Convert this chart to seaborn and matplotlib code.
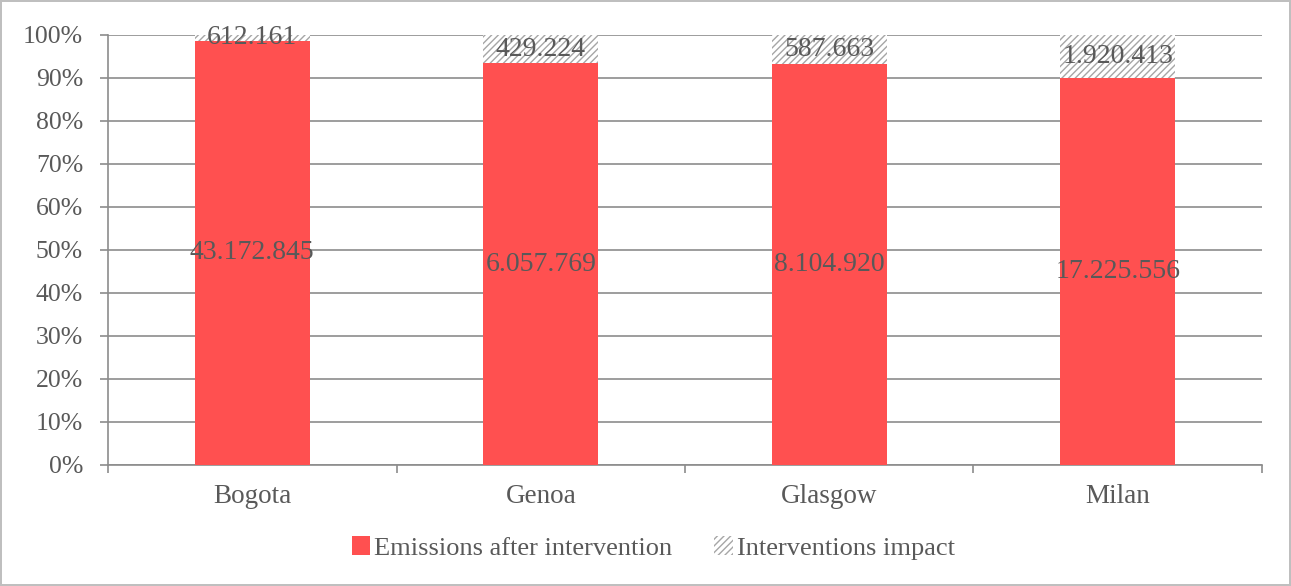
import matplotlib
matplotlib.use("Agg")
import matplotlib.pyplot as plt
from matplotlib.patches import Patch
from matplotlib.ticker import FixedLocator, PercentFormatter
import numpy as np
import pandas as pd
import seaborn as sns

cities = ["Bogota", "Genoa", "Glasgow", "Milan"]
emissions_after = [43172845, 6057769, 8104920, 17225556]
interventions_impact = [612161, 429224, 587663, 1920413]
emissions_labels = ["43.172.845", "6.057.769", "8.104.920", "17.225.556"]
impact_labels = ["612.161", "429.224", "587.663", "1.920.413"]

sns.set_theme(style="white")
plt.rcParams["font.family"] = ["Liberation Serif", "DejaVu Serif"]
plt.rcParams["hatch.linewidth"] = 1.0

text_color = "#595959"
grid_color = "#8C8C8C"
hatch_color = "#A6A6A6"
red = "#FF5050"

totals = np.array(emissions_after, float) + np.array(interventions_impact, float)
after_pct = np.array(emissions_after) / totals * 100
impact_pct = np.array(interventions_impact) / totals * 100

df = pd.DataFrame({"city": cities, "after": after_pct, "total": after_pct + impact_pct})

fig = plt.figure(figsize=(12.91, 5.86), dpi=100)
fig.patch.set_edgecolor("#BFBFBF")
fig.patch.set_linewidth(1.5)
ax = fig.add_axes([0.0837, 0.2065, 0.8938, 0.7338])

# hatched full-height stack underneath, red "after" segment on top of it
sns.barplot(data=df, x="city", y="total", ax=ax, color="white", width=0.4,
            saturation=1, edgecolor=hatch_color, linewidth=0, zorder=2)
for bar in ax.patches:
    bar.set_hatch("/////")
    bar.set_edgecolor(hatch_color)
    bar.set_linewidth(0)
sns.barplot(data=df, x="city", y="after", ax=ax, color=red, width=0.4,
            saturation=1, edgecolor="none", linewidth=0, zorder=3)

for i in range(len(cities)):
    ax.text(i, after_pct[i] / 2, emissions_labels[i], ha="center", va="center",
            fontsize=20, color=text_color, zorder=5)
    ax.text(i, after_pct[i] + impact_pct[i] / 2, impact_labels[i], ha="center",
            va="center", fontsize=20, color=text_color, zorder=5)

ax.set_ylim(0, 100)
ax.set_xlim(-0.5, len(cities) - 0.5)
ax.yaxis.set_major_locator(FixedLocator(np.arange(0, 101, 10)))
ax.yaxis.set_major_formatter(PercentFormatter(decimals=0))
ax.yaxis.grid(True, color=grid_color, linewidth=1.2)
ax.set_axisbelow(True)
ax.set_xlabel("")
ax.set_ylabel("")

ax.xaxis.set_minor_locator(FixedLocator(np.arange(-0.5, len(cities), 1.0)))
ax.tick_params(axis="x", which="major", length=0, labelsize=19.5,
               labelcolor=text_color, pad=14)
ax.tick_params(axis="x", which="minor", length=6, color=grid_color,
               width=1.2, direction="out", bottom=True)
ax.tick_params(axis="y", which="major", length=6, color=grid_color,
               width=1.2, direction="out", left=True, labelsize=18.5,
               labelcolor=text_color, pad=12)

for side in ["top", "right"]:
    ax.spines[side].set_visible(False)
for side in ["left", "bottom"]:
    ax.spines[side].set_color(grid_color)
    ax.spines[side].set_linewidth(1.2)

handles = [Patch(facecolor=red, edgecolor="none", label="Emissions after intervention"),
           Patch(facecolor="white", edgecolor=hatch_color, linewidth=0, hatch="/////",
                 label="Interventions impact")]
fig.legend(handles=handles, loc="center", bbox_to_anchor=(0.506, 0.065), ncol=2,
           frameon=False, fontsize=19, labelcolor=text_color,
           handlelength=0.7, handleheight=0.7, handletextpad=0.15,
           columnspacing=1.6)

fig.savefig("out.png", dpi=100, edgecolor=fig.get_edgecolor())
